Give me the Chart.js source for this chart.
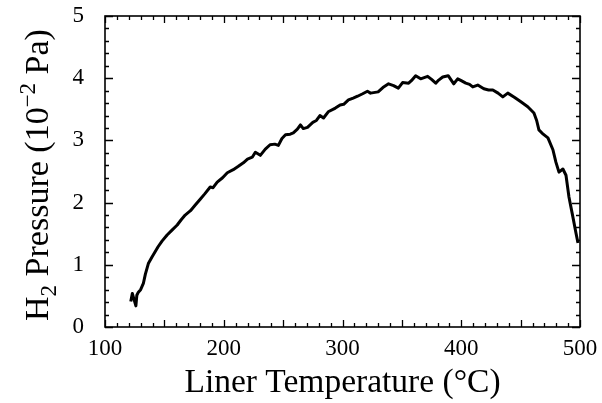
<!DOCTYPE html>
<html lang="en">

<head>
    <meta charset="UTF-8">
    <script src="https://cdn.jsdelivr.net/npm/chart.js@4.4.1/dist/chart.umd.min.js"></script>
    <title>H2 pressure vs liner temperature</title>
    <style>
        html, body { margin: 0; padding: 0; background: #fff; }
        #wrap { width: 602px; height: 403px; }
    </style>
</head>

<body>
    <div id="wrap"><canvas id="chart"></canvas></div>

    <script>
        // liner temperature (°C) and H2 pressure (10^-2 Pa)
        const temperature = [121.7, 123, 126, 126.8, 128.1, 130, 132.3, 134, 136.5, 139.7, 144.7, 148, 152.3, 156,
            160.8, 164, 167.5, 172, 176, 180, 184, 188.6, 191, 194.5, 199, 203, 208, 212, 216.5, 220, 224,
            226.6, 230.8, 235, 239, 243, 246, 249, 252, 256, 258.6, 262, 264.6, 267, 270.5, 275, 278, 281,
            284, 288, 294, 298, 301, 305, 309, 312.7, 317, 321, 323.6, 330, 334, 338.8, 343, 347, 350.6,
            355.7, 358, 361.6, 365.8, 371.7, 375, 378.5, 381, 384.4, 389, 393.7, 397, 400, 403.8, 407,
            409.7, 413.9, 419, 423, 426.6, 431, 435, 439.2, 445, 450.2, 456, 461.2, 463.5, 465.4, 469, 473,
            477.2, 479.7, 482.3, 485.6, 488.2, 490.7, 494, 496.6, 498.3]
        const pressure = [0.41, 0.54, 0.34, 0.51, 0.56, 0.6, 0.7, 0.85, 1.02, 1.13, 1.29, 1.38, 1.48, 1.55,
            1.64, 1.72, 1.80, 1.87, 1.96, 2.05, 2.14, 2.25, 2.24, 2.33, 2.40, 2.48, 2.53, 2.58, 2.64, 2.70, 2.73,
            2.81, 2.76, 2.86, 2.93, 2.94, 2.92, 3.03, 3.09, 3.10, 3.12, 3.18, 3.25, 3.19, 3.21, 3.29, 3.32, 3.40,
            3.36, 3.46, 3.52, 3.57, 3.58, 3.65, 3.68, 3.71, 3.75, 3.79, 3.76, 3.78, 3.85, 3.91, 3.88, 3.84, 3.93,
            3.92, 3.96, 4.04, 3.99, 4.03, 3.98, 3.92, 3.97, 4.02, 4.04, 3.91, 3.99, 3.96, 3.92, 3.90,
            3.86, 3.89, 3.83, 3.81, 3.81, 3.76, 3.70, 3.76, 3.69, 3.62, 3.54, 3.44, 3.32, 3.17, 3.10, 3.04,
            2.85, 2.65, 2.49, 2.54, 2.44, 2.09, 1.77, 1.51, 1.35]

        const xRange = [100, 500]
        const yRange = [0, 5]
        const serif = "'Liberation Serif', 'DejaVu Serif', serif"

        const points = temperature.map((t, i) => ({ x: t, y: pressure[i] }))

        // frame with inward tick marks on all four sides, plus the y title with sub/superscript
        const framePlugin = {
            id: 'frame',
            afterDraw(chart) {
                const { ctx, chartArea: a, scales } = chart
                const xs = scales.x, ys = scales.y
                ctx.save()
                ctx.strokeStyle = '#000'
                ctx.lineWidth = 1.6
                ctx.strokeRect(a.left, a.top, a.right - a.left, a.bottom - a.top)

                ctx.lineWidth = 1.3
                ctx.beginPath()
                for (let v = xRange[0]; v <= xRange[1]; v += 10) {
                    const px = Math.round(xs.getPixelForValue(v)) + 0.5
                    const len = v % 50 === 0 ? 7 : 4
                    ctx.moveTo(px, a.bottom); ctx.lineTo(px, a.bottom - len)
                    ctx.moveTo(px, a.top); ctx.lineTo(px, a.top + len)
                }
                for (let i = 0; i <= 25; i++) {
                    const v = i * 0.2
                    const py = Math.round(ys.getPixelForValue(v)) + 0.5
                    const len = i % 5 === 0 ? 8 : 4
                    ctx.moveTo(a.left, py); ctx.lineTo(a.left + len, py)
                    ctx.moveTo(a.right, py); ctx.lineTo(a.right - len, py)
                }
                ctx.stroke()

                // y axis title: H2 Pressure (10^-2 Pa)
                const big = '34px ' + serif, small = '23px ' + serif
                const parts = [
                    { t: 'H', f: big, dy: 0 },
                    { t: '2', f: small, dy: 8 },
                    { t: ' Pressure (10', f: big, dy: 0 },
                    { t: '\u22122', f: small, dy: -13 },
                    { t: ' Pa)', f: big, dy: 0 }
                ]
                let total = 0
                parts.forEach(p => { ctx.font = p.f; p.w = ctx.measureText(p.t).width; total += p.w })
                ctx.translate(48, 175)
                ctx.rotate(-Math.PI / 2)
                ctx.fillStyle = '#000'
                ctx.textBaseline = 'alphabetic'
                let x = -total / 2
                parts.forEach(p => {
                    ctx.font = p.f
                    ctx.fillText(p.t, x, p.dy)
                    x += p.w
                })
                ctx.restore()
            }
        }

        new Chart(document.getElementById('chart'), {
            type: 'scatter',
            data: {
                datasets: [{
                    data: points,
                    showLine: true,
                    borderColor: '#000',
                    borderWidth: 3,
                    pointRadius: 0,
                    tension: 0,
                    borderJoinStyle: 'round'
                }]
            },
            options: {
                responsive: true,
                maintainAspectRatio: false,
                animation: false,
                layout: { padding: { top: 16, right: 22, left: 0, bottom: 0 } },
                plugins: { legend: { display: false }, tooltip: { enabled: false } },
                scales: {
                    x: {
                        type: 'linear',
                        min: xRange[0], max: xRange[1],
                        grid: { display: false },
                        border: { display: false },
                        ticks: {
                            stepSize: 100, color: '#000', padding: 0, maxRotation: 0,
                            font: { family: serif, size: 23 }
                        },
                        title: {
                            display: true, text: 'Liner Temperature (\u00B0C)', color: '#000',
                            font: { family: serif, size: 33.5 }, padding: { top: 0, bottom: 0 }
                        },
                        afterFit(scale) { scale.height = 76 }
                    },
                    y: {
                        min: yRange[0], max: yRange[1],
                        grid: { display: false },
                        border: { display: false },
                        ticks: {
                            stepSize: 1, color: '#000', padding: 13,
                            font: { family: serif, size: 23, lineHeight: 0.25 }
                        },
                        afterFit(scale) { scale.width = 105 }
                    }
                }
            },
            plugins: [framePlugin]
        })
    </script>
</body>

</html>
